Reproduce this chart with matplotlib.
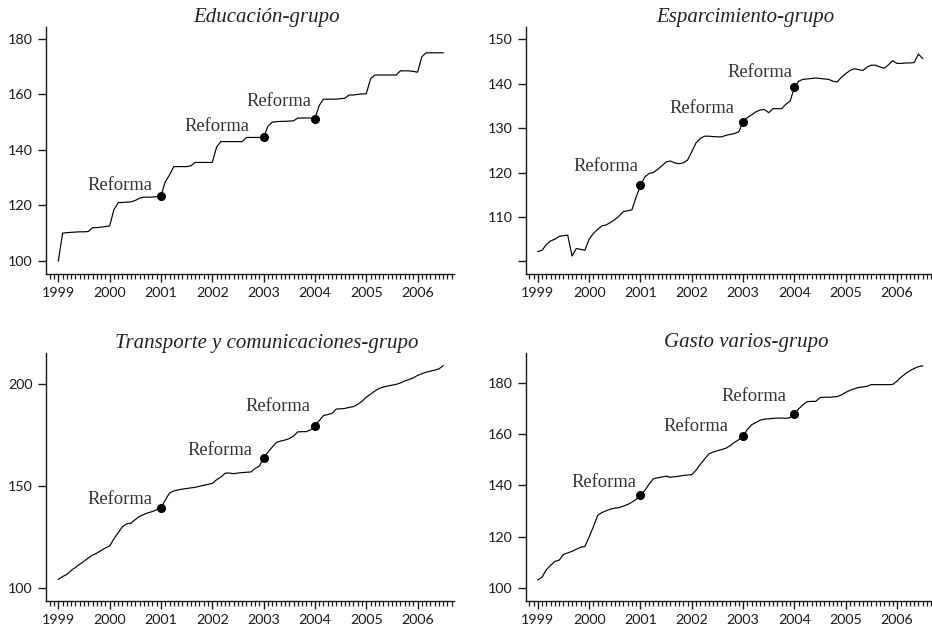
import numpy as np
import matplotlib
matplotlib.use("Agg")
import matplotlib.pyplot as plt
from matplotlib.ticker import MultipleLocator

# ---------------- data (monthly, Jan 1999 .. Jul 2006) ----------------
start_year = 1999
titles = ["Educación-grupo", "Esparcimiento-grupo",
          "Transporte y comunicaciones-grupo", "Gasto varios-grupo"]

educacion = [
    100, 110, 110.2, 110.3, 110.4, 110.5, 110.5, 110.6, 112, 112, 112.2, 112.4,
    112.6, 118.5, 121, 121.1, 121.2, 121.3, 121.8, 122.6, 123, 123, 123, 123.2,
    123.5, 128.5, 131, 134, 134, 134, 134, 134.3, 135.5, 135.5, 135.5, 135.5,
    135.5, 141, 143, 143, 143, 143, 143, 143, 144.5, 144.5, 144.5, 144.5,
    144.5, 148.5, 150, 150.2, 150.3, 150.3, 150.4, 150.5, 151.5, 151.5, 151.5, 151.5,
    151.3, 156, 158.3, 158.3, 158.3, 158.3, 158.5, 158.6, 159.8, 159.8, 160, 160.2,
    160.2, 165.6, 167, 167, 167, 167, 167, 167, 168.5, 168.5, 168.5, 168.3,
    168, 173.6, 175, 175, 175, 175, 175]

esparcimiento = [
    102.2, 102.5, 103.8, 104.6, 105, 105.6, 105.8, 105.9, 101.2, 102.9, 102.7, 102.5,
    105, 106.3, 107.2, 108, 108.2, 108.8, 109.4, 110.2, 111.2, 111.4, 111.6, 114.5,
    117.1, 119, 119.8, 120, 120.7, 121.5, 122.4, 122.6, 122.2, 122, 122.2, 122.8,
    124.7, 126.7, 127.7, 128.2, 128.2, 128.1, 128.05, 128.05, 128.4, 128.6, 128.8, 129.2,
    131.5, 132.4, 133, 133.7, 134.1, 134.2, 133.5, 134.4, 134.4, 134.4, 135.4, 136.1,
    139.2, 140.6, 141, 141.1, 141.2, 141.3, 141.2, 141.1, 141, 140.6, 140.4, 141.5,
    142.3, 143, 143.4, 143.2, 143, 143.8, 144.2, 144.2, 143.8, 143.5, 144.3, 145.2,
    144.6, 144.6, 144.7, 144.7, 144.8, 146.7, 145.7]

transporte = [
    104.1, 105.5, 106.5, 108.5, 110, 111.5, 113, 114.6, 116, 117, 118.3, 119.5,
    120.5, 124, 127, 130, 131.4, 131.7, 133.5, 135, 136, 136.8, 137.4, 138.3,
    139.2, 143, 146.5, 147.5, 148, 148.4, 148.7, 149, 149.3, 149.8, 150.3, 150.7,
    151.2, 153, 154.3, 156.2, 156.3, 156, 156.3, 156.5, 156.7, 156.8, 158.5, 159.7,
    163.7, 166.5, 169, 171.3, 172, 172.5, 173.2, 174.5, 176.5, 176.6, 176.6, 177.5,
    179.6, 182, 184.5, 185, 185.6, 187.7, 187.8, 188, 188.5, 188.9, 190, 191.5,
    193.5, 195, 196.5, 197.8, 198.5, 199, 199.4, 199.8, 200.5, 201.5, 202.2, 203,
    204.2, 205, 205.8, 206.3, 206.8, 207.4, 209]

gasto = [
    103.3, 104.4, 107.3, 109, 110.5, 111, 113.2, 113.8, 114.4, 115.2, 116, 116.3,
    120, 124, 128.4, 129.5, 130.2, 130.8, 131.2, 131.4, 132, 132.6, 133.5, 134.6,
    136.2, 138, 140.5, 142.6, 143, 143.3, 143.6, 143.2, 143.4, 143.6, 143.9, 144.1,
    144.2, 146, 148.2, 150.3, 152.3, 153, 153.5, 154, 154.5, 155.5, 156.8, 157.8,
    159.1, 161.8, 163.6, 164.5, 165.4, 165.8, 165.9, 166.1, 166.2, 166.2, 166.1, 166.4,
    167.6, 169.8, 171.4, 172.6, 172.7, 172.7, 174.2, 174.3, 174.3, 174.4, 174.6, 175.2,
    176.2, 177, 177.6, 178.1, 178.3, 178.6, 179.2, 179.2, 179.2, 179.2, 179.2, 179.3,
    180.6, 182.2, 183.5, 184.6, 185.5, 186.2, 186.5]

series = [educacion, esparcimiento, transporte, gasto]
reform_idx = [24, 48, 60]          # Jan 2001, Jan 2003, Jan 2004
reform_label = "Reforma"
year_ticks = list(range(1999, 2007))
ytick_sets = [[100, 120, 140, 160, 180],
              [100, 110, 120, 130, 140, 150],
              [100, 150, 200],
              [100, 120, 140, 160, 180]]
ytick_labels = [["100", "120", "140", "160", "180"],
                ["", "110", "120", "130", "140", "150"],
                ["100", "150", "200"],
                ["100", "120", "140", "160", "180"]]

# ---------------- layout / style ----------------
W, H = 932, 636
fig = plt.figure(figsize=(W / 100, H / 100), dpi=100)

# (left px, top px, right px, bottom px)
boxes = [(46, 27, 454, 274), (525.5, 27, 933.5, 274),
         (46, 353, 454, 601), (525.5, 352.5, 933.5, 601)]
ylims = [(95.3, 184.3), (97.15, 152.8), (93.5, 215.2), (95.1, 191.7)]
xlim = (1998.76, 2006.71)
# label offsets (pixels) of the right/baseline corner of "Reforma" from each dot
label_offsets = [[(-9, 6), (-14, 6), (-4, 13)],
                 [(-2, 14), (-9, 9), (-2, 10)],
                 [(-9, 4), (-11, 3), (-5, 15)],
                 [(-4, 8), (-15, 5), (-8, 13)]]

serif = ["Liberation Serif", "DejaVu Serif"]
sans = ["Lato", "DejaVu Sans"]
ink = "#1a1a1a"

axes = []
for k, (vals, box) in enumerate(zip(series, boxes)):
    l, t, r, b = box
    ax = fig.add_axes([l / W, 1 - b / H, (r - l) / W, (b - t) / H])
    axes.append(ax)
    n = len(vals)
    x = start_year + np.arange(n) / 12.0
    y = np.asarray(vals, dtype=float)
    ax.plot(x, y, color="black", lw=0.85, solid_joinstyle="round")
    xi = x[reform_idx]
    yi = y[reform_idx]
    ax.plot(xi, yi, "o", color="black", ms=5.5, zorder=3)
    for j, (xx, yy) in enumerate(zip(xi, yi)):
        ax.annotate(reform_label, (xx, yy), xytext=label_offsets[k][j],
                    textcoords="offset pixels", ha="right", va="baseline",
                    fontsize=13.3, family=serif, color="#333333")

    ax.set_xlim(*xlim)
    ax.set_ylim(*ylims[k])
    for s in ("top", "right"):
        ax.spines[s].set_visible(False)
    for s in ("left", "bottom"):
        ax.spines[s].set_linewidth(1.0)
        ax.spines[s].set_color(ink)

    ax.set_xticks(year_ticks)
    ax.set_xticklabels([str(v) for v in year_ticks])
    ax.xaxis.set_minor_locator(MultipleLocator(1 / 12))
    ax.set_yticks(ytick_sets[k])
    ax.set_yticklabels(ytick_labels[k])
    ax.tick_params(axis="both", which="major", length=5.5, width=1.0,
                   color=ink, labelsize=10.3, labelcolor=ink, pad=4)
    ax.xaxis.set_tick_params(which="minor", bottom=True, length=3.5,
                             width=0.9, color=ink)
    for lab in ax.get_xticklabels() + ax.get_yticklabels():
        lab.set_family(sans)

    ax.text(0.54, 1.0, titles[k], transform=ax.transAxes, ha="center",
            va="bottom", fontsize=15, family=serif, style="italic",
            color="#222222")

fig.canvas.draw()
nmin = [len(a.xaxis.get_minorticklocs()) for a in axes]
vis = [sum(t.tick1line.get_visible() for t in a.xaxis.get_minor_ticks()) for a in axes]
if min(nmin) == 0 or min(vis) == 0:
    raise SystemExit(f"minor ticks missing: {nmin} {vis}")
fig.savefig("out.png", dpi=100)
